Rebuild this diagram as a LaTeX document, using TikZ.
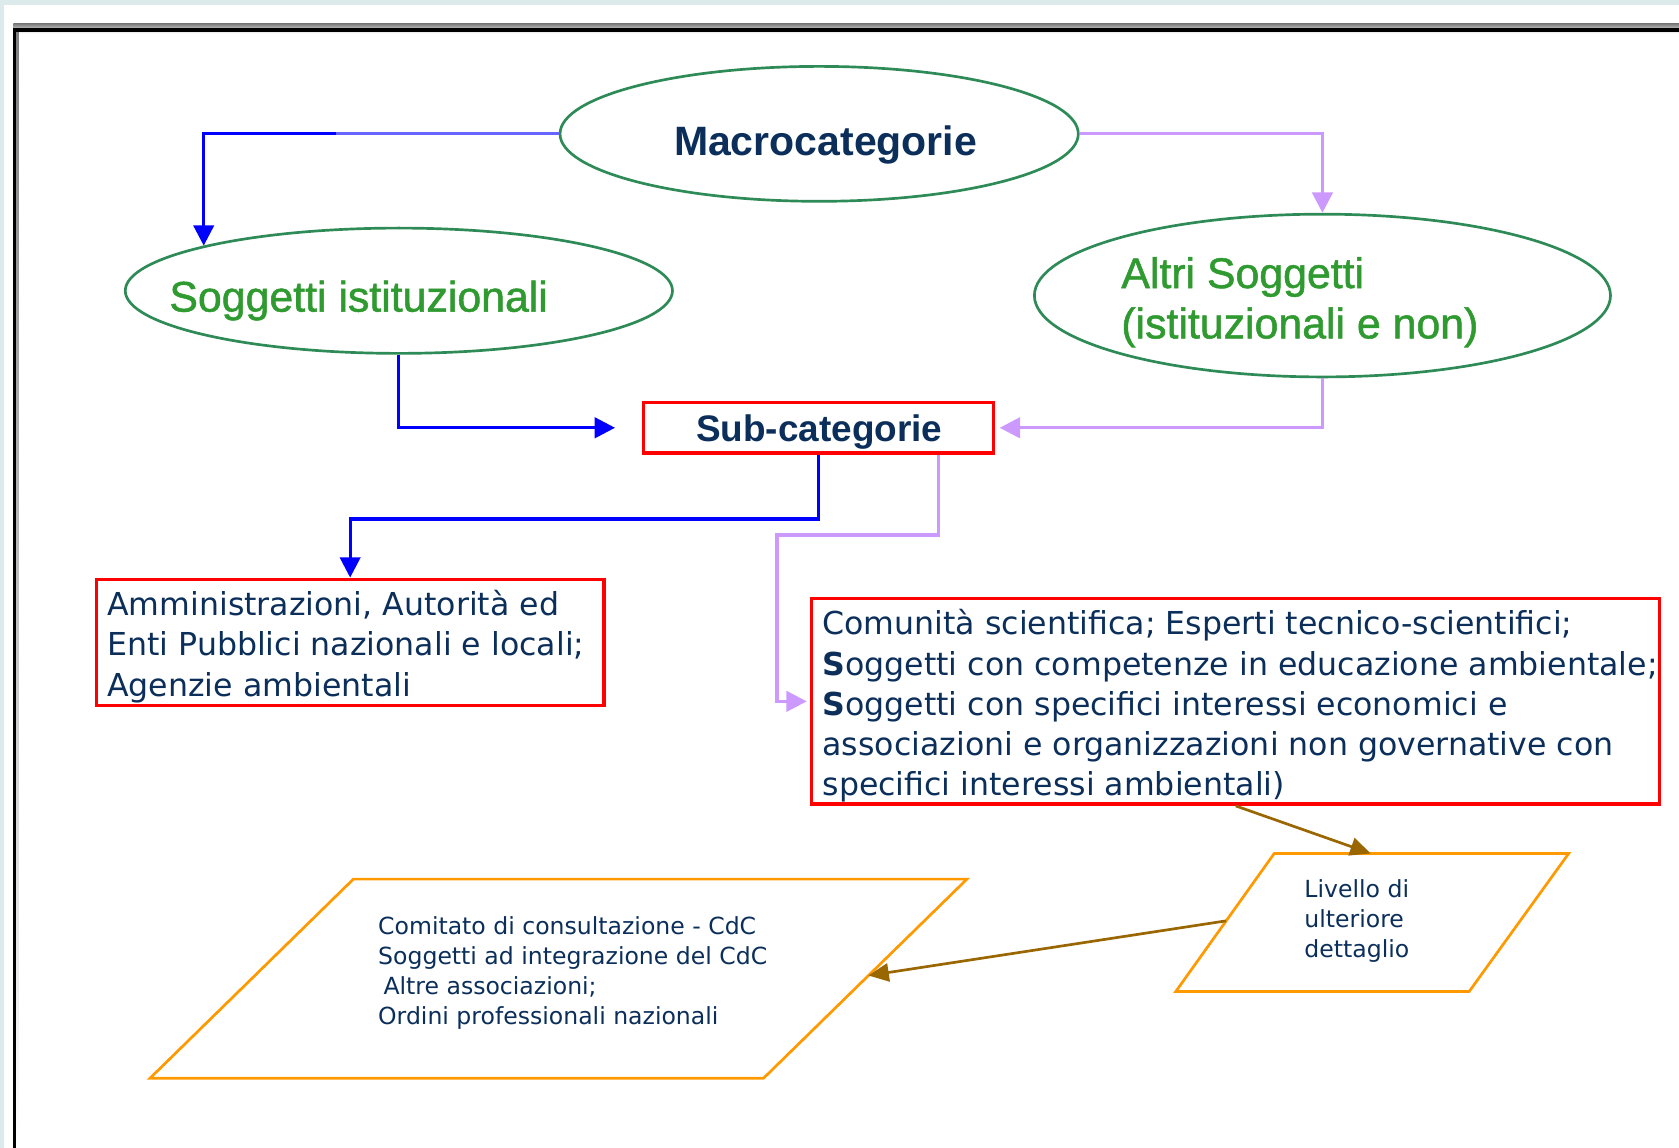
\documentclass[tikz,border=0pt]{standalone}
\usepackage{fontspec}
\setmainfont{Liberation Sans}
\newfontfamily\dvs{DejaVu Sans}
\newfontfamily\heavysans[FakeBold=1.2]{Liberation Sans}
\usetikzlibrary{arrows.meta,calc,shapes.geometric}

\definecolor{navy}{HTML}{0B2F5A}
\definecolor{ggreen}{HTML}{2F9A2F}
\definecolor{ellgreen}{HTML}{2E8B57}
\definecolor{lav}{HTML}{CC99FF}
\definecolor{lightblue}{HTML}{6666FF}
\definecolor{brownarr}{HTML}{996600}
\definecolor{orangeb}{HTML}{FF9900}
\definecolor{bgstrip}{HTML}{DCEAEC}
\definecolor{shade}{HTML}{B8B8B8}

\begin{document}
\begin{tikzpicture}[x=1pt,y=-1pt,
  ell/.style={draw=ellgreen, line width=2.5pt, ellipse, inner sep=0pt},
  redbox/.style={draw=red, line width=3.2pt, rectangle, inner sep=0pt},
  orangebox/.style={draw=orangeb, line width=2.5pt, line join=miter},
  greentxt/.style={text=ggreen, inner sep=0pt, font=\heavysans\fontsize{40}{47}\selectfont},
  macrotxt/.style={text=navy, inner sep=0pt, font=\bfseries\fontsize{38.3}{46}\selectfont},
  subtxt/.style={text=navy, inner sep=0pt, font=\bfseries\fontsize{34.5}{40}\selectfont},
  bodytxt/.style={text=navy, inner sep=0pt, font=\dvs\fontsize{29.5}{37.5}\selectfont},
  smalltxt/.style={text=navy, inner sep=0pt, font=\dvs\fontsize{22}{28}\selectfont},
  bluearr/.style={draw=blue, line width=3pt, -{Triangle[length=19pt,width=19pt]}},
  lavarr/.style={draw=lav, line width=3pt, -{Triangle[length=19pt,width=19pt]}},
  brarr/.style={draw=brownarr, line width=2.5pt, -{Triangle[length=19pt,width=17pt]}}
]
\useasboundingbox (0,0) rectangle (1568,1072);
\clip (0,0) rectangle (1568,1072);
% page background and frame
\fill[white] (0,0) rectangle (1568,1072);
\fill[bgstrip] (0,0) rectangle (1568,4.7);
\fill[bgstrip] (0,0) rectangle (3.7,1072);
\fill[shade] (12.5,22.4) rectangle (1568,31.1);
\fill[shade] (15,29.6) rectangle (17.7,1072);
\fill[black] (12.5,26.4) rectangle (1568,29.6);
\fill[black] (12.5,26.4) rectangle (15,1072);

% ellipses
\node[ell, minimum width=484pt, minimum height=126pt] (macro) at (765,125) {};
\node[macrotxt, anchor=base] (macrot) at (771,145) {Macrocategorie};

\node[ell, minimum width=511pt, minimum height=117pt] (sogg) at (372.5,271.5) {};
\node[greentxt, anchor=base west] (soggt) at (158,291) {Soggetti istituzionali};

\node[ell, minimum width=538pt, minimum height=152pt] (altri) at (1235,276) {};
\node[greentxt, anchor=base west] (altrit) at (1047,269)
  {\begin{tabular}[t]{@{}l@{}}Altri Soggetti\\(istituzionali e non)\end{tabular}};

% boxes
\node[redbox, minimum width=327pt, minimum height=47pt] (sub) at (764.5,399.5) {};
\node[subtxt, anchor=base] (subt) at (765,412) {Sub-categorie};

\node[redbox, minimum width=474pt, minimum height=118pt] (admin) at (327,600) {};
\node[bodytxt, anchor=base west] (admint) at (100,575)
  {\begin{tabular}[t]{@{}l@{}}Amministrazioni, Autorità ed\\Enti Pubblici nazionali e locali;\\Agenzie ambientali\end{tabular}};

\node[redbox, minimum width=792pt, minimum height=192pt] (com) at (1154,655) {};
\node[bodytxt, anchor=base west] (comt) at (768,593)
  {\begin{tabular}[t]{@{}l@{}}Comunità scientifica; Esperti tecnico-scientifici;\\{\bfseries S}oggetti con competenze in educazione ambientale;\\{\bfseries S}oggetti con specifici interessi economici e\\associazioni e organizzazioni non governative con\\specifici interessi ambientali)\end{tabular}};

% parallelograms
\coordinate (livTL) at (1190,797);
\coordinate (livTR) at (1465,797);
\coordinate (livBR) at (1372,926);
\coordinate (livBL) at (1098,926);
\draw[orangebox] (livTL) -- (livTR) -- (livBR) -- (livBL) -- cycle;
\node[smalltxt, anchor=base west] (livt) at (1218,838)
  {\begin{tabular}[t]{@{}l@{}}Livello di\\ulteriore\\dettaglio\end{tabular}};

\coordinate (cdcTL) at (330,821);
\coordinate (cdcTR) at (903,821);
\coordinate (cdcBR) at (713,1007);
\coordinate (cdcBL) at (140,1007);
\draw[orangebox] (cdcTL) -- (cdcTR) -- (cdcBR) -- (cdcBL) -- cycle;
\node[smalltxt, anchor=base west] (cdct) at (353,873)
  {\begin{tabular}[t]{@{}l@{}}Comitato di consultazione - CdC\\Soggetti ad integrazione del CdC\\\hspace{5pt}Altre associazioni;\\Ordini professionali nazionali\end{tabular}};

\coordinate (livtop) at (1280,797);
\coordinate (livleft) at ($(livBL)!0.512!(livTL)$);
\coordinate (cdcright) at ($(cdcBR)!0.516!(cdcTR)$);

% connectors
\draw[bluearr] (macro.west) -| (sogg.167);
\draw[lightblue, line width=3pt] (macro.west) -- ++(-208,0);
\draw[lavarr] (macro.east) -| (altri.north);
\draw[bluearr, shorten >=25pt] (sogg.south) |- (sub.west);
\draw[lavarr, shorten >=4pt] (altri.south) |- (sub.east);
\draw[bluearr] (sub.south) -- ++(0,60) -| (admin.north);
\draw[lavarr, shorten >=3pt] ($(sub.south east)+(-53,0)$) -- ++(0,75) -- ++(-151,0) |- (com.west);
\draw[brarr] (com.south) -- (livtop);
\draw[brarr] (livleft) -- (cdcright);
\end{tikzpicture}
\end{document}
